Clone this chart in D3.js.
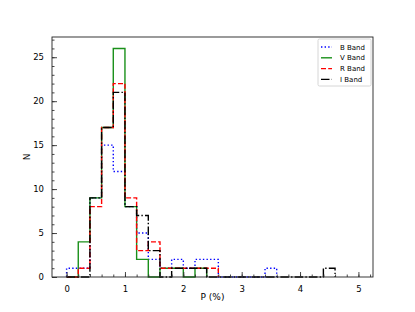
<!DOCTYPE html>
<html>
<head>
<meta charset="utf-8">
<script src="https://cdn.jsdelivr.net/npm/d3@7"></script>
<style>
  body { margin: 0; background: #fff; }
  svg text { font-family: "DejaVu Sans", sans-serif; fill: #000; }
</style>
</head>
<body>
<div id="chart"></div>
<script>
// bin left edges (width 0.2)
var binStarts = [0, 0.2, 0.4, 0.6, 0.8, 1.0, 1.2, 1.4, 1.6, 1.8, 2.0, 2.2,
                 2.4, 2.6, 2.8, 3.0, 3.2, 3.4, 3.6, 3.8, 4.0, 4.2, 4.4];
var binWidth = 0.2;

var countsB = [1, 1, 9, 15, 12, 8, 5, 2, 1, 2, 1, 2, 2, 0, 0, 0, 0, 1, 0, 0, 0, 0, 0];
var countsV = [0, 4, 9, 17, 26, 8, 2, 0, 1, 1, 0, 1, 0, 0, 0, 0, 0, 0, 0, 0, 0, 0, 0];
var countsR = [0, 1, 8, 17, 22, 9, 3, 4, 1, 1, 1, 1, 1, 0, 0, 0, 0, 0, 0, 0, 0, 0, 0];
var countsI = [0, 0, 9, 17, 21, 8, 7, 3, 0, 1, 1, 1, 0, 0, 0, 0, 0, 0, 0, 0, 0, 0, 1];

var bandNames = ["B Band", "V Band", "R Band", "I Band"];
var xTicks = [0, 1, 2, 3, 4, 5];
var yTicks = [0, 5, 10, 15, 20, 25];

var bands = [
  { name: bandNames[0], counts: countsB, color: "#0000ff", dash: "1.4,2.2" },
  { name: bandNames[1], counts: countsV, color: "#1a901a", dash: null },
  { name: bandNames[2], counts: countsR, color: "#ff0000", dash: "5,2.2" },
  { name: bandNames[3], counts: countsI, color: "#000000", dash: "8.5,2.2,1.4,2.2" }
];

var W = 415, H = 312;
var m = { left: 52, right: 42, top: 37, bottom: 35 };

var svg = d3.select("#chart").append("svg")
  .attr("width", W)
  .attr("height", H);

var x = d3.scaleLinear().domain([-0.25, 5.25]).range([m.left, W - m.right]);
var y = d3.scaleLinear().domain([0, 27.3]).range([H - m.bottom, m.top]);

// step outline of each histogram
function stepPoints(counts) {
  var pts = [[binStarts[0], 0]];
  var last = 0;
  counts.forEach(function(c, i) { if (c > 0) last = i; });
  for (var i = 0; i <= last; i++) {
    pts.push([binStarts[i], counts[i]]);
    pts.push([binStarts[i] + binWidth, counts[i]]);
  }
  pts.push([binStarts[last] + binWidth, 0]);
  return pts;
}

var line = d3.line()
  .x(function(d) { return x(d[0]); })
  .y(function(d) { return y(d[1]); });

var plot = svg.append("g");
plot.selectAll("path.hist")
  .data(bands)
  .enter()
  .append("path")
  .classed("hist", true)
  .attr("d", function(d) { return line(stepPoints(d.counts)); })
  .attr("fill", "none")
  .attr("stroke", function(d) { return d.color; })
  .attr("stroke-width", 1.4)
  .attr("stroke-dasharray", function(d) { return d.dash; });

// axes (ticks inward, bottom and left only)
var xMinor = d3.range(0, 5.21, 0.2);
var yMinor = d3.range(0, 27.01, 1);

var xAxis = d3.axisBottom(x).tickValues(xTicks).tickSize(-5).tickPadding(9)
  .tickFormat(d3.format("d"));
var yAxis = d3.axisLeft(y).tickValues(yTicks).tickSize(-5).tickPadding(8);

var gx = svg.append("g")
  .attr("transform", "translate(0," + (H - m.bottom) + ")")
  .call(d3.axisBottom(x).tickValues(xMinor).tickSize(-2.5).tickFormat(""));
gx.select(".domain").remove();
var gx2 = svg.append("g")
  .attr("transform", "translate(0," + (H - m.bottom) + ")")
  .call(xAxis);
gx2.select(".domain").remove();

var gy = svg.append("g")
  .attr("transform", "translate(" + m.left + ",0)")
  .call(d3.axisLeft(y).tickValues(yMinor).tickSize(-2.5).tickFormat(""));
gy.select(".domain").remove();
var gy2 = svg.append("g")
  .attr("transform", "translate(" + m.left + ",0)")
  .call(yAxis);
gy2.select(".domain").remove();

svg.selectAll(".tick line").attr("stroke", "#333").attr("stroke-width", 0.9);
svg.selectAll(".tick text").attr("font-size", 8.5).attr("font-family", "DejaVu Sans");

// frame
svg.append("rect")
  .attr("x", m.left)
  .attr("y", m.top)
  .attr("width", W - m.left - m.right)
  .attr("height", H - m.top - m.bottom)
  .attr("fill", "none")
  .attr("stroke", "#222")
  .attr("stroke-width", 0.9);

// axis labels
svg.append("text")
  .attr("x", (m.left + W - m.right) / 2)
  .attr("y", 300)
  .attr("text-anchor", "middle")
  .attr("font-size", 9)
  .text("P (%)");

svg.append("text")
  .attr("transform", "translate(30," + ((m.top + H - m.bottom) / 2) + ") rotate(-90)")
  .attr("text-anchor", "middle")
  .attr("font-size", 9)
  .text("N");

// legend
var lg = svg.append("g").attr("transform", "translate(318,39)");
lg.append("rect")
  .attr("width", 53)
  .attr("height", 47)
  .attr("rx", 1.5)
  .attr("fill", "#fff")
  .attr("stroke", "#ccc")
  .attr("stroke-width", 0.8);

var item = lg.selectAll("g.item")
  .data(bands)
  .enter()
  .append("g")
  .classed("item", true)
  .attr("transform", function(d, i) { return "translate(0," + (8 + i * 10.8) + ")"; });

item.append("line")
  .attr("x1", 3).attr("x2", 14)
  .attr("stroke", function(d) { return d.color; })
  .attr("stroke-width", 1.4)
  .attr("stroke-dasharray", function(d) { return d.dash; });

item.append("text")
  .attr("x", 22)
  .attr("y", 2.5)
  .attr("font-size", 7)
  .text(function(d) { return d.name; });
</script>
</body>
</html>
